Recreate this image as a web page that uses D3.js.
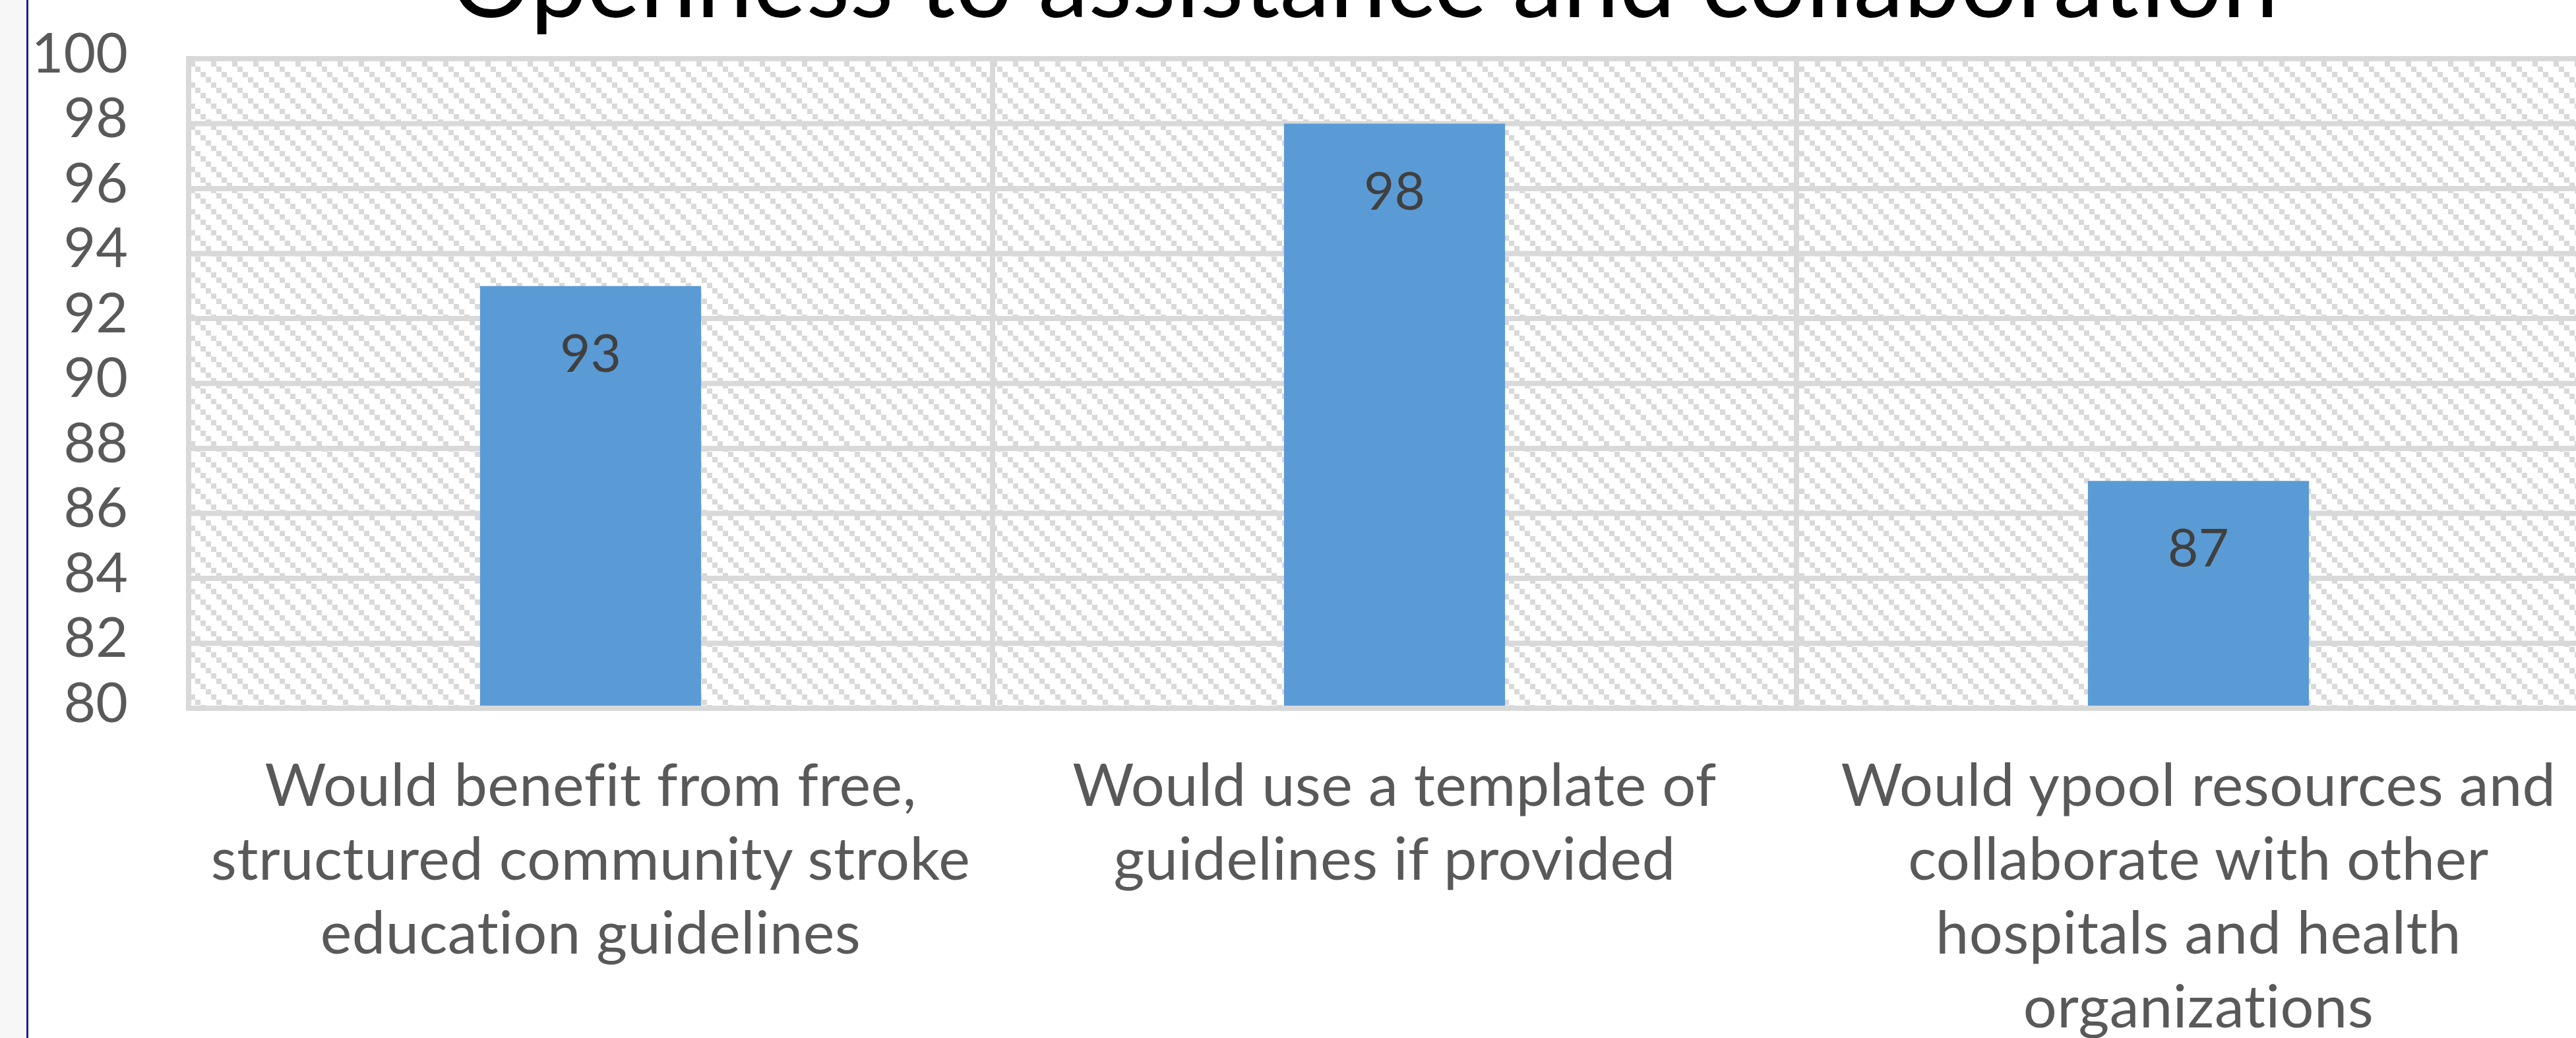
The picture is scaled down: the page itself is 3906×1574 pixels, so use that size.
<!DOCTYPE html>
<html>
<head>
<meta charset="utf-8">
<script src="https://cdn.jsdelivr.net/npm/d3@7"></script>
<style>
  html, body { margin: 0; padding: 0; background: #ffffff; }
  svg { display: block; }
  text { font-family: Lato, "Open Sans", sans-serif; }
</style>
</head>
<body>
<svg id="chart" width="3906" height="1574"></svg>
<script>
// ---- data ----
const title = "Openness to assistance and collaboration";
const categories = ["benefit", "template", "pool"];
const categoryLabelLines = [
  ["Would benefit from free,", "structured community stroke", "education guidelines"],
  ["Would use a template of", "guidelines if provided"],
  ["Would ypool resources and", "collaborate with other", "hospitals and health", "organizations"]
];
const values = [93, 98, 87];
const yTicks = [80, 82, 84, 86, 88, 90, 92, 94, 96, 98, 100];
const yDomain = [80, 100];

// ---- layout ----
const W = 3906, H = 1574;
const plot = { left: 286, right: 3943, top: 89, bottom: 1074 };
const gridColor = "#d9d9d9";
const textColor = "#595959";

const svg = d3.select("#chart");

// page background pieces
svg.append("rect").attr("x", 0).attr("y", 0).attr("width", 41).attr("height", H).attr("fill", "#f7f7f7");
svg.append("rect").attr("x", 41).attr("y", 0).attr("width", W - 41).attr("height", H).attr("fill", "#ffffff");
svg.append("line").attr("x1", 41.5).attr("x2", 41.5).attr("y1", 0).attr("y2", H)
  .attr("stroke", "#1c1c9e").attr("stroke-width", 3);

// hatch pattern
const defs = svg.append("defs");
const pat = defs.append("pattern").attr("id", "hatch")
  .attr("patternUnits", "userSpaceOnUse").attr("width", 32).attr("height", 32)
  .attr("x", plot.left + 2).attr("y", plot.top + 4);
pat.append("rect").attr("width", 32).attr("height", 32).attr("fill", "#ffffff");
[0, 1, 2, 3].forEach(i => {
  pat.append("rect").attr("x", i * 8).attr("y", i * 8).attr("width", 8).attr("height", 8)
    .attr("fill", gridColor).attr("shape-rendering", "crispEdges");
});

// scales
const x = d3.scaleBand().domain(categories).range([plot.left, plot.right])
  .paddingInner(0.725).paddingOuter(0.3625);
const y = d3.scaleLinear().domain(yDomain).range([plot.bottom, plot.top]);

// plot area with hatch
svg.append("rect").attr("x", plot.left).attr("y", plot.top)
  .attr("width", plot.right - plot.left).attr("height", plot.bottom - plot.top)
  .attr("fill", "url(#hatch)");

// horizontal gridlines
svg.append("g").selectAll("line").data(yTicks).join("line")
  .attr("x1", plot.left - 4).attr("x2", plot.right)
  .attr("y1", d => y(d)).attr("y2", d => y(d))
  .attr("stroke", gridColor).attr("stroke-width", 8);

// vertical gridlines at category boundaries
const boundaries = categories.map(c => x(c) - x.step() * x.paddingOuter());
boundaries.push(plot.right);
svg.append("g").selectAll("line").data(boundaries).join("line")
  .attr("x1", d => d).attr("x2", d => d)
  .attr("y1", plot.top - 4).attr("y2", plot.bottom + 4)
  .attr("stroke", gridColor).attr("stroke-width", 8);

// bars
svg.append("g").selectAll("rect").data(values).join("rect")
  .attr("x", (d, i) => x(categories[i]))
  .attr("y", d => y(d))
  .attr("width", x.bandwidth())
  .attr("height", d => y(yDomain[0]) - y(d))
  .attr("fill", "#5b9bd5");

// axis line on top
svg.append("line").attr("x1", plot.left - 4).attr("x2", plot.right)
  .attr("y1", y(yDomain[0])).attr("y2", y(yDomain[0]))
  .attr("stroke", gridColor).attr("stroke-width", 8);

// y axis labels
const yAxis = d3.axisLeft(y).tickValues(yTicks).tickSize(0).tickPadding(92);
const gy = svg.append("g").attr("transform", `translate(${plot.left},0)`).call(yAxis);
gy.select(".domain").remove();
gy.selectAll("text")
  .attr("dy", null)
  .attr("y", 20)
  .attr("fill", textColor)
  .style("font-size", "84px")
  .style("font-family", "Lato, 'Open Sans', sans-serif");

// data labels
svg.append("g").selectAll("text").data(values).join("text")
  .attr("x", (d, i) => x(categories[i]) + x.bandwidth() / 2)
  .attr("y", d => y(d) + 130)
  .attr("text-anchor", "middle")
  .attr("fill", "#404040")
  .style("font-size", "80px")
  .text(d => d);

// category labels
const lineH = 112;
categoryLabelLines.forEach((lines, i) => {
  const t = svg.append("text")
    .attr("x", x(categories[i]) + x.bandwidth() / 2)
    .attr("y", 1222)
    .attr("text-anchor", "middle")
    .attr("fill", textColor)
    .style("font-size", "90px")
    .style("letter-spacing", "0.5px");
  lines.forEach((ln, j) => {
    t.append("tspan").attr("x", x(categories[i]) + x.bandwidth() / 2)
      .attr("y", 1222 + j * lineH).text(ln);
  });
});

// title (cut off at top, as in the reference)
svg.append("text")
  .attr("x", 2069).attr("y", 26)
  .attr("text-anchor", "middle")
  .attr("fill", "#000000")
  .style("font-size", "153px")
  .text(title);
</script>
</body>
</html>
